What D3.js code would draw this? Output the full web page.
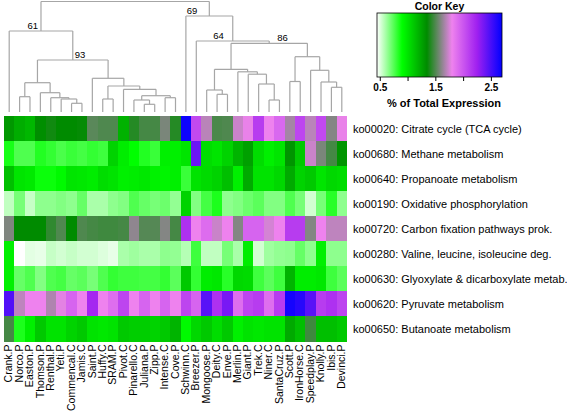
<!DOCTYPE html>
<html><head><meta charset="utf-8">
<script src="https://cdn.jsdelivr.net/npm/d3@7"></script>
<style>
body{margin:0;background:#fff}
svg{display:block}
text{font-family:"Liberation Sans",Arial,Helvetica,sans-serif;fill:#000}
</style>
</head><body>
<svg id="chart" width="567" height="418"></svg>
<script>
// ---- data ----
const columns = ["Crank.P","Norco.P","Easton.P","Thomson.P","Renthal.P","Yeti.P","Commencal.C","Jamis.C","Saint.P","Huffy.C","SRAM.P","Pivot.C","Pinarello.C","Juliana.P","Zipp.P","Intense.C","Cove.P","Schwinn.C","Breezer.P","Mongoose.P","Deity.C","Enve.P","Merlin.P","Giant.P","Trek.C","Niner.C","SantaCruz.P","Scott.P","IronHorse.C","Speedplay.P","Knolly.P","Ibis.P","Devinci.P"];
const pathways = ["ko00020: Citrate cycle (TCA cycle)","ko00680: Methane metabolism","ko00640: Propanoate metabolism","ko00190: Oxidative phosphorylation","ko00720: Carbon fixation pathways prok.","ko00280: Valine, leucine, isoleucine deg.","ko00630: Glyoxylate & dicarboxylate metab.","ko00620: Pyruvate metabolism","ko00650: Butanoate metabolism"];

const ko00020 = [1.30,1.22,1.18,1.34,1.38,1.35,1.35,1.36,1.52,1.50,1.50,1.20,1.42,1.48,1.48,1.58,1.42,2.66,2.06,1.70,1.49,1.50,1.73,1.79,2.12,1.80,1.92,1.66,2.08,1.70,2.06,1.60,1.79];
const ko00680 = [0.86,0.76,0.76,0.84,0.81,0.77,0.80,0.78,0.81,0.79,1.07,0.97,0.90,0.84,0.80,0.96,0.96,1.00,2.40,1.03,1.00,1.07,1.19,1.27,1.03,0.96,1.00,1.31,1.11,1.73,1.58,1.48,1.31];
const ko00640 = [1.15,1.00,0.98,0.88,0.88,0.92,1.00,0.99,0.97,1.03,1.01,0.96,0.97,0.99,0.95,0.94,0.96,0.80,1.01,1.04,1.07,1.15,0.96,1.23,1.01,1.01,1.05,1.23,1.07,1.11,1.00,1.05,1.03];
const ko00190 = [0.56,0.69,0.55,0.65,0.65,0.67,0.65,0.72,0.60,0.60,0.65,0.67,0.76,0.72,0.69,0.71,0.64,1.07,0.67,0.78,0.85,0.65,0.67,0.71,0.74,0.67,0.67,0.76,0.69,0.53,0.69,0.83,0.65];
const ko00720 = [1.59,1.35,1.35,1.35,1.44,1.50,1.35,1.50,1.48,1.47,1.47,1.48,1.62,1.51,1.51,1.60,1.48,2.17,1.80,1.90,1.73,1.80,1.60,1.94,1.94,1.75,1.80,2.12,2.12,1.60,1.80,1.71,1.71];
const ko00280 = [0.96,0.45,0.50,0.49,0.55,0.53,0.55,0.53,0.53,0.51,0.49,0.60,0.62,0.60,0.60,0.65,0.64,0.58,0.79,0.56,0.56,0.69,0.60,0.97,0.53,0.62,0.64,0.65,0.72,0.65,0.96,0.65,0.65];
const ko00630 = [0.96,0.72,0.76,0.67,0.76,0.78,0.72,0.74,0.69,0.76,0.81,0.79,0.79,0.78,0.78,0.81,0.74,1.11,0.81,0.97,0.99,0.83,1.05,1.04,0.79,0.74,0.79,1.19,0.97,0.97,0.99,0.79,0.74];
const ko00620 = [2.47,1.71,1.80,1.80,1.68,1.78,1.94,1.80,2.22,1.80,1.89,2.08,1.80,1.94,1.80,1.94,1.80,2.08,1.94,2.45,2.17,2.36,1.89,2.08,2.12,1.89,2.12,2.64,2.59,2.45,2.12,2.17,2.08];
const ko00650 = [1.48,0.85,0.96,1.11,1.01,1.01,1.07,1.11,1.01,0.99,1.01,1.11,1.09,1.09,1.07,1.11,1.19,0.92,1.05,1.11,1.03,1.11,0.96,1.01,0.99,1.01,1.01,1.23,1.15,1.47,1.15,1.15,1.11];
const rowsData = [ko00020,ko00680,ko00640,ko00190,ko00720,ko00280,ko00630,ko00620,ko00650];

const keyStops = [0.45,0.9,1.35,1.8,2.25,2.7];
const keyColors = ["#ffffff","#00ff00","#008b00","#ee82ee","#a020f0","#0000ff"];
const keyTicks = [0.5,1,1.5,2,2.5];
const keyTickLabels = ["0.5","","1.5","","2.5"];

// column dendrogram: internal nodes {h: merge height, b: bootstrap, c: children}
const tree = {h:110.5, c:[
  {h:81, b:61, c:["Crank.P",
    {h:52, b:93, c:[
      {h:29.3, c:[{h:15.3, c:["Norco.P","Easton.P"]},
                  {h:19.3, c:["Thomson.P",{h:14.3, c:["Renthal.P",{h:13, c:["Yeti.P",{h:8.7, c:["Commencal.C","Jamis.C"]}]}]}]}]},
      {h:33.7, c:["Saint.P",{h:26, c:[{h:13, c:["Huffy.C","SRAM.P"]},
                  {h:22.7, c:["Pivot.C",{h:16.3, c:[{h:12, c:["Pinarello.C",{h:7.7, c:["Juliana.P","Zipp.P"]}]},
                                                     {h:14.3, c:["Intense.C","Cove.P"]}]}]}]}]}
    ]}
  ]},
  {h:96, b:69, c:["Schwinn.C",
    {h:71, b:64, c:["Breezer.P",
      {h:68.7, b:86, c:[
        {h:42.7, c:[{h:22, c:["Mongoose.P",{h:17.7, c:["Deity.C","Enve.P"]}]},
                    {h:40.2, c:["Merlin.P",{h:37.8, c:["Giant.P",{h:28, c:["Trek.C",{h:12, c:["Niner.C","SantaCruz.P"]}]}]}]}]},
        {h:55.3, c:[{h:30.5, c:["Scott.P","IronHorse.C"]},
                    {h:41.7, c:["Speedplay.P",{h:30, c:["Knolly.P",{h:24.7, c:["Ibis.P","Devinci.P"]}]}]}]}
      ]}
    ]}
  ]}
]};

// ---- layout ----
const labelOffset = {61:{dx:-3,anchor:"end"},93:{dx:2,anchor:"start"},69:{dx:-12,anchor:"end"},64:{dx:-9,anchor:"end"},86:{dx:8,anchor:"start"}};

const svg = d3.select("#chart");
const x = d3.scaleBand().domain(columns).range([4,347]);
const y = d3.scaleBand().domain(pathways).range([116.3,341.3]);
const color = d3.scaleLinear().domain(keyStops).range(keyColors).clamp(true);

// heatmap cells
const cells = [];
rowsData.forEach((row,ri)=>row.forEach((v,ci)=>cells.push({r:pathways[ri],c:columns[ci],v})));
svg.append("g").selectAll("rect").data(cells).join("rect")
  .attr("x",d=>x(d.c)).attr("y",d=>y(d.r))
  .attr("width",x.bandwidth()+0.4).attr("height",y.bandwidth()+0.4)
  .attr("fill",d=>color(d.v)).attr("shape-rendering","crispEdges");

// row labels
svg.append("g").selectAll("text").data(pathways).join("text")
  .attr("x",353).attr("y",d=>y(d)+y.bandwidth()/2).attr("dy","0.35em")
  .attr("font-size",11).text(d=>d);

// column labels
svg.append("g").selectAll("text").data(columns).join("text")
  .attr("transform",d=>`translate(${x(d)+x.bandwidth()/2+3.2},344.5) rotate(-90)`)
  .attr("text-anchor","end").attr("font-size",10.5).text(d=>d);

// dendrogram
const root = d3.hierarchy(tree, d => (typeof d === "string") ? null : d.c);
const hy = d3.scaleLinear().domain([0,110.5]).range([112,1.5]);
root.eachAfter(n=>{
  if(!n.children){ n.px = x(n.data)+x.bandwidth()/2; n.py = hy(0); }
  else { n.px = d3.mean(n.children,c=>c.px); n.py = hy(n.data.h); }
});
const segs = [];
root.each(n=>{
  if(n.children){
    const [a,b] = n.children;
    segs.push([a.px,n.py,b.px,n.py]);
    n.children.forEach(c=>segs.push([c.px,n.py,c.px,c.py]));
  }
});
svg.append("g").attr("stroke","#a6a6a6").attr("stroke-width",1.2).attr("fill","none")
  .selectAll("line").data(segs).join("line")
  .attr("x1",d=>d[0]).attr("y1",d=>d[1]).attr("x2",d=>d[2]).attr("y2",d=>d[3]);

const boot = root.descendants().filter(n=>n.children && n.data.b);
svg.append("g").selectAll("text").data(boot).join("text")
  .attr("x",n=>n.px+labelOffset[n.data.b].dx).attr("y",n=>n.py-2)
  .attr("text-anchor",n=>labelOffset[n.data.b].anchor)
  .attr("font-size",9.5).text(n=>n.data.b);

// colour key
const kx = d3.scaleLinear().domain([keyStops[0],keyStops[keyStops.length-1]]).range([377,502]);
const defs = svg.append("defs");
const grad = defs.append("linearGradient").attr("id","kg").attr("x1","0%").attr("x2","100%");
keyStops.forEach((s,i)=>grad.append("stop")
  .attr("offset",((s-keyStops[0])/(keyStops[keyStops.length-1]-keyStops[0])*100)+"%")
  .attr("stop-color",keyColors[i]));
svg.append("rect").attr("x",kx.range()[0]).attr("y",13).attr("width",kx.range()[1]-kx.range()[0]).attr("height",64)
  .attr("fill","url(#kg)").attr("stroke","#000").attr("stroke-width",0.8);
const kaxis = d3.axisBottom(kx).tickValues(keyTicks).tickSize(4).tickPadding(3)
  .tickFormat((d,i)=>keyTickLabels[i]);
const ka = svg.append("g").attr("transform","translate(0,77)").call(kaxis);
ka.select(".domain").remove();
ka.selectAll("text").attr("font-size",10).attr("font-weight","bold")
  .style("font-family",'"Liberation Sans",Arial,sans-serif');
svg.append("text").attr("x",439.5).attr("y",10).attr("text-anchor","middle")
  .attr("font-size",10.5).attr("font-weight","bold").text("Color Key");
svg.append("text").attr("x",444).attr("y",107).attr("text-anchor","middle")
  .attr("font-size",11).attr("font-weight","bold").text("% of Total Expression");
</script>
</body></html>
